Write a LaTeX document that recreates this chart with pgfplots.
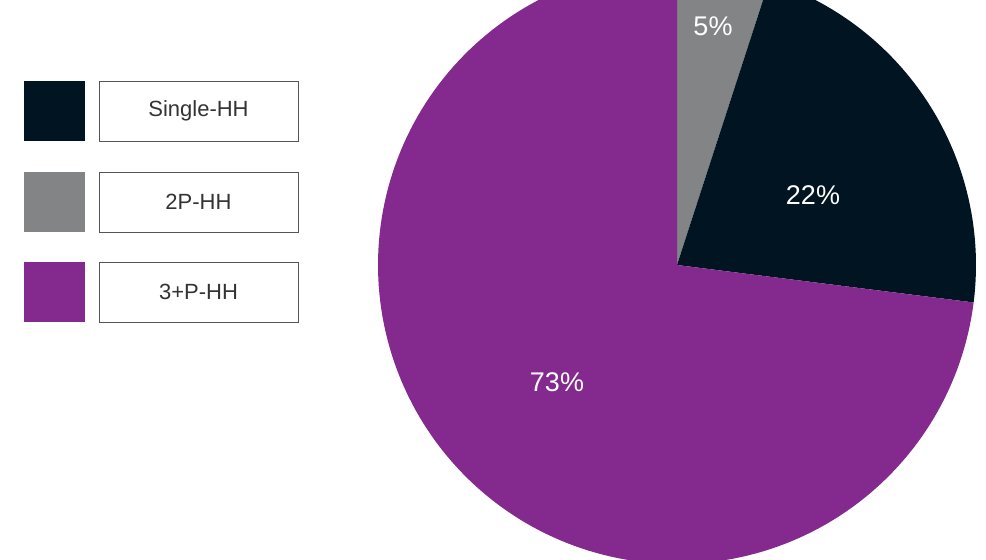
\documentclass[border=0pt]{standalone}
\usepackage{pgfplots}
\pgfplotsset{compat=1.18}
\usepackage{fontspec}
\setmainfont{Liberation Sans}
\definecolor{cdark}{HTML}{001521}
\definecolor{cgray}{HTML}{838485}
\definecolor{cpurple}{HTML}{84298E}
\definecolor{cbord}{HTML}{555555}
\definecolor{ctext}{HTML}{333333}
% pie values (percent), clockwise from 12 o'clock
\def\vA{5}   % 2P-HH
\def\vB{22}  % Single-HH
\def\vC{73}  % 3+P-HH
\begin{document}
\begin{tikzpicture}
\begin{axis}[
  scale only axis, width=493pt, height=279.5pt,
  xmin=0, xmax=986, ymin=0, ymax=559, y dir=reverse,
  axis lines=none, clip=true,
]
\pgfmathsetmacro{\aA}{90}
\pgfmathsetmacro{\aB}{90-3.6*\vA}
\pgfmathsetmacro{\aC}{\aB-3.6*\vB}
\pgfmathsetmacro{\aD}{\aC-3.6*\vC}
% slices
\addplot[fill=cgray, draw=none, domain=\aA:\aB, samples=20, variable=\t]
  ({677+299*cos(\t)},{265-299*sin(\t)}) -- (axis cs:677,265) -- cycle;
\addplot[fill=cdark, draw=none, domain=\aB:\aC, samples=60, variable=\t]
  ({677+299*cos(\t)},{265-299*sin(\t)}) -- (axis cs:677,265) -- cycle;
\addplot[fill=cpurple, draw=none, domain=\aC:\aD, samples=180, variable=\t]
  ({677+299*cos(\t)},{265-299*sin(\t)}) -- (axis cs:677,265) -- cycle;
% labels
\node[text=white, font=\fontsize{13.5pt}{15pt}\selectfont] at (axis cs:713,26) {5\%};
\node[text=white, font=\fontsize{13.5pt}{15pt}\selectfont] at (axis cs:813,195) {22\%};
\node[text=white, font=\fontsize{13.5pt}{15pt}\selectfont] at (axis cs:557,382) {73\%};
% legend swatches
\addplot[fill=cdark, draw=none] coordinates {(24,81) (85,81) (85,141) (24,141)} -- cycle;
\addplot[fill=cgray, draw=none] coordinates {(24,172) (85,172) (85,232) (24,232)} -- cycle;
\addplot[fill=cpurple, draw=none] coordinates {(24,262) (85,262) (85,322) (24,322)} -- cycle;
% legend boxes
\addplot[draw=cbord, line width=0.5pt] coordinates {(99,81) (298,81) (298,141) (99,141)} -- cycle;
\addplot[draw=cbord, line width=0.5pt] coordinates {(99,172) (298,172) (298,232) (99,232)} -- cycle;
\addplot[draw=cbord, line width=0.5pt] coordinates {(99,262) (298,262) (298,322) (99,322)} -- cycle;
\node[text=ctext, font=\fontsize{11pt}{13pt}\selectfont] at (axis cs:198.5,111) {Single-HH};
\node[text=ctext, font=\fontsize{11pt}{13pt}\selectfont] at (axis cs:198.5,202) {2P-HH};
\node[text=ctext, font=\fontsize{11pt}{13pt}\selectfont] at (axis cs:198.5,292) {3+P-HH};
\end{axis}
\pgfresetboundingbox
\useasboundingbox (current axis.south west) rectangle (current axis.north east);
\end{tikzpicture}
\end{document}
